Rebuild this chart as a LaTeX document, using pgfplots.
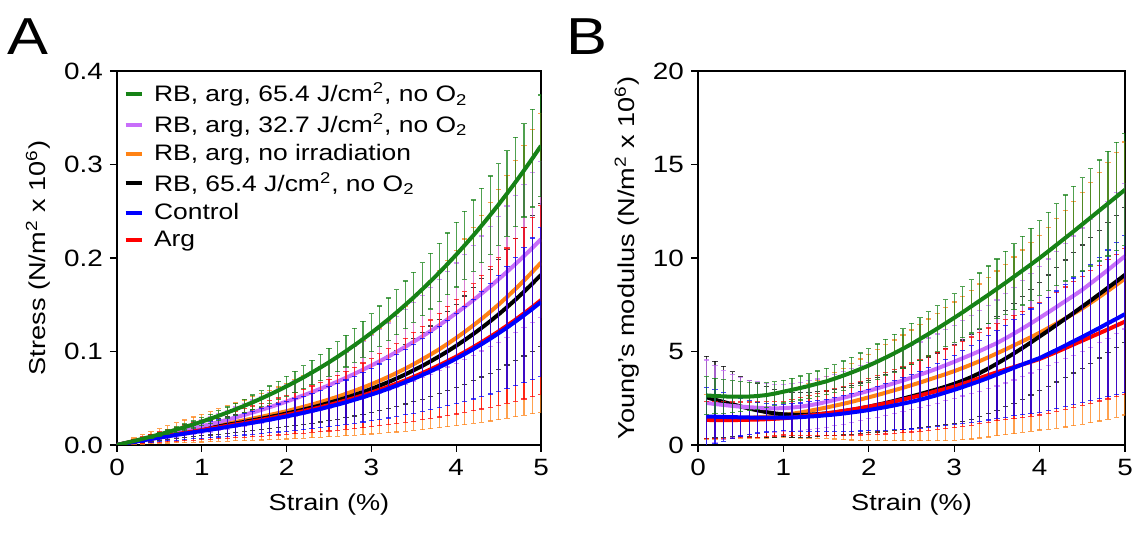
\documentclass[border=0pt]{standalone}
\usepackage{fontspec}
\setmainfont{Liberation Sans}[FakeStretch=1.18]
\usepackage{pgfplots}
\usepackage{pgfplotstable}
\pgfplotsset{compat=1.18}

\definecolor{cg}{RGB}{22,130,22}
\definecolor{cp}{RGB}{200,110,250}
\definecolor{co}{RGB}{255,130,20}
\definecolor{ck}{RGB}{0,0,0}
\definecolor{cb}{RGB}{0,0,255}
\definecolor{cr}{RGB}{255,0,0}

\pgfplotstableread{
x g p o k b r
0.0 0 0 0 0 0 0
0.1 0.0021 0.0019 0.0021 0.0020 0.0017 0.0018
0.2 0.0043 0.0037 0.0041 0.0039 0.0033 0.0035
0.3 0.0066 0.0056 0.0060 0.0057 0.0049 0.0052
0.4 0.0089 0.0076 0.0078 0.0075 0.0064 0.0068
0.5 0.0113 0.0095 0.0096 0.0092 0.0079 0.0084
0.6 0.0138 0.0115 0.0113 0.0108 0.0093 0.0100
0.7 0.0165 0.0136 0.0130 0.0124 0.0108 0.0115
0.8 0.0192 0.0157 0.0147 0.0139 0.0122 0.0130
0.9 0.0220 0.0178 0.0164 0.0155 0.0136 0.0145
1.0 0.0250 0.0200 0.0180 0.0170 0.0150 0.0160
1.1 0.0281 0.0223 0.0196 0.0185 0.0164 0.0175
1.2 0.0313 0.0246 0.0213 0.0200 0.0178 0.0190
1.3 0.0347 0.0270 0.0230 0.0216 0.0193 0.0205
1.4 0.0382 0.0295 0.0247 0.0231 0.0208 0.0221
1.5 0.0419 0.0321 0.0265 0.0247 0.0223 0.0236
1.6 0.0457 0.0348 0.0283 0.0264 0.0238 0.0253
1.7 0.0497 0.0375 0.0301 0.0281 0.0254 0.0269
1.8 0.0539 0.0404 0.0321 0.0299 0.0271 0.0286
1.9 0.0582 0.0434 0.0341 0.0317 0.0288 0.0304
2.0 0.0628 0.0465 0.0362 0.0337 0.0306 0.0322
2.1 0.0675 0.0497 0.0385 0.0357 0.0325 0.0342
2.2 0.0724 0.0531 0.0408 0.0378 0.0344 0.0362
2.3 0.0776 0.0565 0.0433 0.0401 0.0365 0.0383
2.4 0.0829 0.0602 0.0459 0.0425 0.0386 0.0404
2.5 0.0885 0.0639 0.0487 0.0450 0.0409 0.0427
2.6 0.0943 0.0678 0.0516 0.0477 0.0432 0.0451
2.7 0.1004 0.0719 0.0547 0.0505 0.0457 0.0477
2.8 0.1067 0.0761 0.0579 0.0535 0.0484 0.0503
2.9 0.1132 0.0805 0.0614 0.0566 0.0511 0.0531
3.0 0.1200 0.0850 0.0650 0.0600 0.0540 0.0560
3.1 0.1271 0.0897 0.0688 0.0636 0.0570 0.0591
3.2 0.1344 0.0946 0.0729 0.0673 0.0602 0.0623
3.3 0.1420 0.0997 0.0772 0.0713 0.0636 0.0657
3.4 0.1499 0.1050 0.0817 0.0755 0.0672 0.0692
3.5 0.1580 0.1105 0.0865 0.0800 0.0709 0.0730
3.6 0.1665 0.1161 0.0916 0.0846 0.0748 0.0769
3.7 0.1753 0.1220 0.0969 0.0896 0.0789 0.0810
3.8 0.1844 0.1281 0.1024 0.0948 0.0832 0.0853
3.9 0.1938 0.1345 0.1083 0.1003 0.0877 0.0898
4.0 0.2035 0.1410 0.1145 0.1061 0.0924 0.0945
4.1 0.2136 0.1478 0.1210 0.1122 0.0973 0.0994
4.2 0.2239 0.1548 0.1278 0.1186 0.1025 0.1046
4.3 0.2347 0.1620 0.1349 0.1253 0.1079 0.1100
4.4 0.2458 0.1695 0.1424 0.1323 0.1136 0.1157
4.5 0.2572 0.1773 0.1502 0.1397 0.1195 0.1215
4.6 0.2690 0.1853 0.1584 0.1474 0.1256 0.1277
4.7 0.2812 0.1936 0.1670 0.1555 0.1321 0.1341
4.8 0.2937 0.2021 0.1759 0.1640 0.1388 0.1408
4.9 0.3067 0.2109 0.1853 0.1728 0.1457 0.1477
5.0 0.3200 0.2200 0.1950 0.1820 0.1530 0.1550
}\tabA

\pgfplotstableread{
x g ge p pe o oe k ke b be r re
0.1 2.65 1.00 2.25 2.30 1.50 1.20 2.55 2.20 1.52 1.55 1.34 1.00
0.2 2.62 0.95 2.19 2.05 1.48 1.18 2.42 2.05 1.51 1.45 1.33 0.99
0.3 2.60 0.90 2.14 1.85 1.46 1.15 2.30 1.90 1.50 1.30 1.33 0.98
0.4 2.58 0.85 2.09 1.67 1.45 1.12 2.18 1.75 1.49 1.15 1.33 0.97
0.5 2.58 0.80 2.05 1.55 1.45 1.10 2.06 1.60 1.48 1.00 1.34 0.96
0.6 2.59 0.76 2.02 1.45 1.46 1.10 1.95 1.52 1.47 0.90 1.35 0.95
0.7 2.62 0.72 1.99 1.38 1.48 1.12 1.85 1.44 1.46 0.82 1.36 0.94
0.8 2.67 0.67 1.97 1.32 1.51 1.14 1.76 1.36 1.46 0.76 1.38 0.93
0.9 2.75 0.63 1.96 1.28 1.55 1.17 1.69 1.28 1.46 0.72 1.40 0.92
1.0 2.85 0.60 1.97 1.25 1.60 1.20 1.64 1.20 1.46 0.70 1.43 0.90
1.1 2.95 0.62 2.00 1.27 1.67 1.29 1.62 1.20 1.47 0.73 1.47 0.96
1.2 3.05 0.64 2.05 1.29 1.74 1.38 1.61 1.20 1.49 0.76 1.52 1.02
1.3 3.16 0.66 2.12 1.31 1.82 1.47 1.62 1.20 1.52 0.79 1.57 1.08
1.4 3.28 0.68 2.20 1.33 1.91 1.56 1.65 1.20 1.55 0.82 1.63 1.14
1.5 3.40 0.70 2.30 1.35 2.00 1.65 1.69 1.20 1.59 0.85 1.69 1.20
1.6 3.55 0.74 2.41 1.38 2.10 1.78 1.74 1.24 1.63 0.90 1.75 1.26
1.7 3.71 0.78 2.52 1.41 2.20 1.91 1.81 1.28 1.68 0.95 1.82 1.32
1.8 3.88 0.82 2.64 1.44 2.31 2.04 1.88 1.32 1.74 1.00 1.89 1.38
1.9 4.06 0.86 2.77 1.47 2.43 2.17 1.96 1.36 1.80 1.05 1.97 1.44
2.0 4.25 0.90 2.90 1.50 2.55 2.30 2.05 1.40 1.87 1.10 2.05 1.50
2.1 4.46 0.94 3.03 1.54 2.67 2.43 2.15 1.46 1.95 1.17 2.14 1.57
2.2 4.68 0.98 3.17 1.58 2.80 2.56 2.25 1.52 2.03 1.24 2.23 1.64
2.3 4.91 1.02 3.31 1.62 2.93 2.69 2.36 1.58 2.12 1.31 2.33 1.71
2.4 5.15 1.06 3.45 1.66 3.06 2.82 2.48 1.64 2.21 1.38 2.43 1.78
2.5 5.40 1.10 3.60 1.70 3.20 2.95 2.60 1.70 2.31 1.45 2.54 1.85
2.6 5.67 1.14 3.76 1.75 3.34 3.10 2.72 1.78 2.42 1.53 2.65 1.92
2.7 5.94 1.18 3.92 1.80 3.49 3.25 2.85 1.86 2.54 1.61 2.77 1.99
2.8 6.22 1.22 4.09 1.85 3.64 3.40 2.98 1.94 2.67 1.69 2.89 2.06
2.9 6.51 1.26 4.27 1.90 3.79 3.55 3.12 2.02 2.81 1.77 3.00 2.13
3.0 6.80 1.30 4.45 1.95 3.95 3.70 3.27 2.10 2.95 1.85 3.12 2.20
3.1 7.10 1.36 4.64 2.02 4.12 3.84 3.44 2.18 3.10 1.95 3.27 2.28
3.2 7.41 1.42 4.83 2.09 4.30 3.98 3.63 2.26 3.26 2.05 3.42 2.36
3.3 7.72 1.48 5.03 2.16 4.49 4.12 3.85 2.34 3.42 2.15 3.58 2.44
3.4 8.03 1.54 5.24 2.23 4.69 4.26 4.09 2.42 3.59 2.25 3.74 2.52
3.5 8.35 1.60 5.45 2.30 4.90 4.40 4.35 2.50 3.77 2.35 3.89 2.60
3.6 8.67 1.68 5.70 2.39 5.11 4.56 4.62 2.58 3.95 2.46 4.03 2.68
3.7 9.00 1.76 5.96 2.48 5.33 4.72 4.90 2.66 4.13 2.57 4.17 2.76
3.8 9.33 1.84 6.23 2.57 5.55 4.88 5.19 2.74 4.31 2.68 4.31 2.84
3.9 9.66 1.92 6.51 2.66 5.77 5.04 5.49 2.82 4.48 2.79 4.45 2.92
4.0 10.00 2.00 6.80 2.75 6.00 5.20 5.80 2.90 4.65 2.90 4.60 3.00
4.1 10.35 2.10 7.09 2.86 6.25 5.40 6.11 2.98 4.87 3.02 4.79 3.09
4.2 10.71 2.20 7.39 2.97 6.50 5.60 6.43 3.06 5.09 3.14 4.98 3.18
4.3 11.07 2.30 7.69 3.08 6.76 5.80 6.75 3.14 5.32 3.26 5.18 3.27
4.4 11.43 2.40 7.99 3.19 7.03 6.00 7.07 3.22 5.55 3.38 5.38 3.36
4.5 11.80 2.50 8.30 3.30 7.30 6.20 7.40 3.30 5.78 3.50 5.58 3.45
4.6 12.17 2.60 8.65 3.42 7.61 6.42 7.73 3.36 6.02 3.64 5.78 3.54
4.7 12.54 2.70 9.00 3.54 7.92 6.64 8.07 3.42 6.26 3.78 5.98 3.63
4.8 12.91 2.80 9.36 3.66 8.24 6.86 8.41 3.48 6.51 3.92 6.18 3.72
4.9 13.28 2.90 9.73 3.78 8.57 7.08 8.75 3.54 6.75 4.06 6.39 3.81
5.0 13.65 3.00 10.10 3.90 8.90 7.30 9.10 3.60 7.00 4.20 6.60 3.90
}\tabB

\newcommand{\fsT}{\fontsize{11.8}{13}\selectfont}
\newcommand{\fsL}{\fontsize{11.5}{13}\selectfont}
\newcommand{\fsG}{\fontsize{11.2}{13}\selectfont}

\pgfplotsset{
  base/.style={
    scale only axis, height=187pt,
    xmin=0, xmax=5, xtick={0,1,2,3,4,5},
    tick pos=left, tick align=outside, major tick length=3.5pt,
    axis line style={line width=0.6pt},
    every tick/.style={line width=0.6pt, black},
    /pgf/number format/assume math mode=true,
    tick label style={font=\fsT},
    label style={font=\fsL},
    xlabel={Strain (\%)},
    xlabel style={yshift=-2pt},
  },
  sA/.style={color=#1, mark=none, line width=2pt, forget plot,
    error bars/y dir=both,
    error bars/error bar style={line width=0.6pt, opacity=0.75},
    error bars/error mark options={rotate=90, mark size=1.3pt, line width=0.6pt, opacity=0.75}},
}

\begin{document}
\begin{tikzpicture}
\path[use as bounding box] (-58.5pt,-44pt) rectangle (508pt,222.5pt);

\begin{axis}[base, width=212pt, at={(0pt,0pt)}, anchor=south west,
  ymin=0, ymax=0.4, ytick={0,0.1,0.2,0.3,0.4},
  yticklabel style={/pgf/number format/.cd, fixed, fixed zerofill, precision=1},
  ylabel={Stress (N/m\textsuperscript{2} x 10\textsuperscript{6})},
  legend style={draw=none, fill=none, at={(axis description cs:0.01,0.985)}, anchor=north west, font=\fsG, inner sep=1pt, row sep=0.4pt},
  legend cell align=left,
  legend image code/.code={\draw[#1, line width=2pt] (0pt,0pt) -- (8pt,0pt); \path (12pt,0pt);},
]
\addplot[sA=co, error bars/y fixed relative=0.82] table[x=x, y=o] {\tabA};
\addplot[sA=ck, error bars/y fixed relative=0.42] table[x=x, y=k] {\tabA};
\addplot[sA=cp, error bars/y fixed relative=0.38] table[x=x, y=p] {\tabA};
\addplot[sA=cr, error bars/y fixed relative=0.65] table[x=x, y=r] {\tabA};
\addplot[sA=cb, error bars/y fixed relative=0.52] table[x=x, y=b] {\tabA};
\addplot[sA=cg, error bars/y fixed relative=0.17] table[x=x, y=g] {\tabA};
\addlegendimage{cg}
\addlegendentry{RB, arg, 65.4 J/cm\textsuperscript{2}, no O\textsubscript{2}}
\addlegendimage{cp}
\addlegendentry{RB, arg, 32.7 J/cm\textsuperscript{2}, no O\textsubscript{2}}
\addlegendimage{co}
\addlegendentry{RB, arg, no irradiation}
\addlegendimage{ck}
\addlegendentry{RB, 65.4 J/cm\textsuperscript{2}, no O\textsubscript{2}}
\addlegendimage{cb}
\addlegendentry{Control}
\addlegendimage{cr}
\addlegendentry{Arg}
\end{axis}

\begin{axis}[base, width=213.5pt, at={(290.5pt,0pt)}, anchor=south west,
  ymin=0, ymax=20, ytick={0,5,10,15,20},
  ylabel={Young’s modulus (N/m\textsuperscript{2} x 10\textsuperscript{6})},
]
\addplot[sA=co, error bars/y explicit] table[x=x, y=o, y error=oe] {\tabB};
\addplot[sA=ck, error bars/y explicit] table[x=x, y=k, y error=ke] {\tabB};
\addplot[sA=cp, error bars/y explicit] table[x=x, y=p, y error=pe] {\tabB};
\addplot[sA=cr, error bars/y explicit] table[x=x, y=r, y error=re] {\tabB};
\addplot[sA=cb, error bars/y explicit] table[x=x, y=b, y error=be] {\tabB};
\addplot[sA=cg, error bars/y explicit] table[x=x, y=g, y error=ge] {\tabB};
\end{axis}

\node[font=\fontsize{26}{28}\selectfont] at (-44.5pt,204pt) {A};
\node[font=\fontsize{26}{28}\selectfont] at (235pt,204pt) {B};
\end{tikzpicture}
\end{document}
